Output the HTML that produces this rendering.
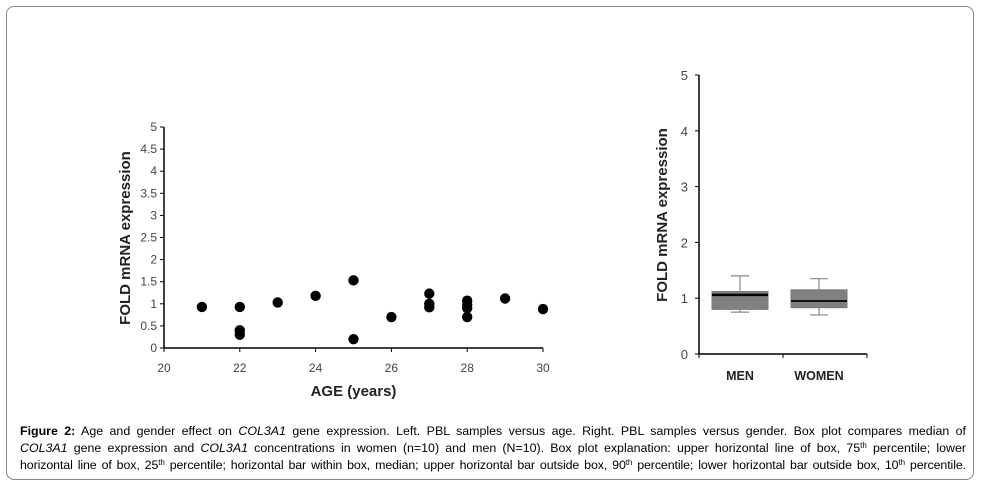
<!DOCTYPE html>
<html><head><meta charset="utf-8">
<style>
body{margin:0;background:#fff;width:982px;height:488px;overflow:hidden;font-family:"Liberation Sans",sans-serif;}
#frame{position:absolute;left:6px;top:6px;width:968px;height:474px;border:1.5px solid #888;border-radius:8px;box-sizing:border-box;}
.cap{position:absolute;left:20px;width:946px;font-size:12.4px;color:#000;text-align:justify;text-align-last:justify;white-space:nowrap;line-height:14px;}
sup{font-size:8px;line-height:0;vertical-align:4px;}
</style></head><body>
<div id="frame"></div>
<svg id="chart" width="982" height="488" style="position:absolute;left:0;top:0"></svg>
<div class="cap" style="top:424px"><b>Figure 2:</b> Age and gender effect on <i>COL3A1</i> gene expression. Left. PBL samples versus age. Right. PBL samples versus gender. Box plot compares median of</div>
<div class="cap" style="top:441px"><i>COL3A1</i> gene expression and <i>COL3A1</i> concentrations in women (n=10) and men (N=10). Box plot explanation: upper horizontal line of box, 75<sup>th</sup> percentile; lower</div>
<div class="cap" style="top:458px;letter-spacing:-0.1px">horizontal line of box, 25<sup>th</sup> percentile; horizontal bar within box, median; upper horizontal bar outside box, 90<sup>th</sup> percentile; lower horizontal bar outside box, 10<sup>th</sup> percentile.</div>
<script>
const ages=[21,22,22,22,23,24,25,25,26,27,27,27,28,28,28,28,29,30];
const expr=[0.93,0.93,0.4,0.3,1.03,1.18,1.53,0.2,0.7,1.23,1.0,0.92,1.07,0.98,0.9,0.7,1.12,0.88];
const xTicks=[20,22,24,26,28,30];
const yTicks=[0,0.5,1,1.5,2,2.5,3,3.5,4,4.5,5];
const groups=["MEN","WOMEN"];
const q1=[0.8,0.83], q3=[1.12,1.15], med=[1.06,0.95], wLo=[0.75,0.7], wHi=[1.4,1.35];
const bTicks=[0,1,2,3,4,5];

const NS="http://www.w3.org/2000/svg";
const svg=document.getElementById('chart');
function mk(t,a,txt){const e=document.createElementNS(NS,t);for(const k in a)e.setAttribute(k,a[k]);if(txt!=null)e.textContent=txt;svg.appendChild(e);return e;}
// left scatter
const sx=v=>164+(v-20)*37.9, sy=v=>348-v*44.2;
let e=mk('line',{x1:164,y1:sy(5),x2:164,y2:348,stroke:'#000','stroke-width':1.5});

e=mk('line',{x1:164,y1:348,x2:sx(30),y2:348,stroke:'#000','stroke-width':1.5});

yTicks.forEach(v=>{mk('line',{x1:160,y1:sy(v),x2:164,y2:sy(v),stroke:'#000'});
 e=mk('text',{x:157,y:sy(v)+4,'text-anchor':'end','font-size':12,fill:'#444'},String(v));
 });
xTicks.forEach(v=>{mk('line',{x1:sx(v),y1:348,x2:sx(v),y2:352,stroke:'#000'});
 e=mk('text',{x:sx(v),y:372,'text-anchor':'middle','font-size':12,fill:'#444'},String(v));
 });
e=mk('text',{x:sx(25),y:396,'text-anchor':'middle','font-size':15,'font-weight':'bold',fill:'#222'},'AGE (years)');

e=mk('text',{x:0,y:0,transform:'translate(130,238) rotate(-90)','text-anchor':'middle','font-size':15,'font-weight':'bold',fill:'#222'},'FOLD mRNA expression');

ages.forEach((a,i)=>{e=mk('circle',{cx:sx(a),cy:sy(expr[i]),r:5.2,fill:'#000'});
 });
// right box plot
const by=v=>354-v*55.8, bx=[740,819], hw=28;
e=mk('line',{x1:699,y1:by(5),x2:699,y2:354,stroke:'#000','stroke-width':1.5});

e=mk('line',{x1:699,y1:354,x2:867,y2:354,stroke:'#000','stroke-width':1.5});

[699,783,867].forEach(x=>mk('line',{x1:x,y1:354,x2:x,y2:358,stroke:'#000'}));
bTicks.forEach(v=>{mk('line',{x1:695,y1:by(v),x2:699,y2:by(v),stroke:'#000'});
 e=mk('text',{x:688,y:by(v)+5,'text-anchor':'end','font-size':13,fill:'#444'},String(v));
 });
e=mk('text',{x:0,y:0,transform:'translate(667,215) rotate(-90)','text-anchor':'middle','font-size':15,'font-weight':'bold',fill:'#222'},'FOLD mRNA expression');

groups.forEach((g,i)=>{const c=bx[i];
 e=mk('line',{x1:c,y1:by(wHi[i]),x2:c,y2:by(wLo[i]),stroke:'#888','stroke-width':1.2});
 
 mk('line',{x1:c-9,y1:by(wHi[i]),x2:c+9,y2:by(wHi[i]),stroke:'#888','stroke-width':1.2});
 mk('line',{x1:c-9,y1:by(wLo[i]),x2:c+9,y2:by(wLo[i]),stroke:'#888','stroke-width':1.2});
 e=mk('rect',{x:c-hw,y:by(q3[i]),width:hw*2,height:by(q1[i])-by(q3[i]),fill:'#808080',stroke:'#777'});
 
 e=mk('line',{x1:c-hw,y1:by(med[i]),x2:c+hw,y2:by(med[i]),stroke:'#000','stroke-width':i==0?2.5:1.8});
 
 e=mk('text',{x:c,y:380,'text-anchor':'middle','font-size':12.5,'font-weight':'bold',fill:'#222'},g);
 
});
</script>
</body></html>
